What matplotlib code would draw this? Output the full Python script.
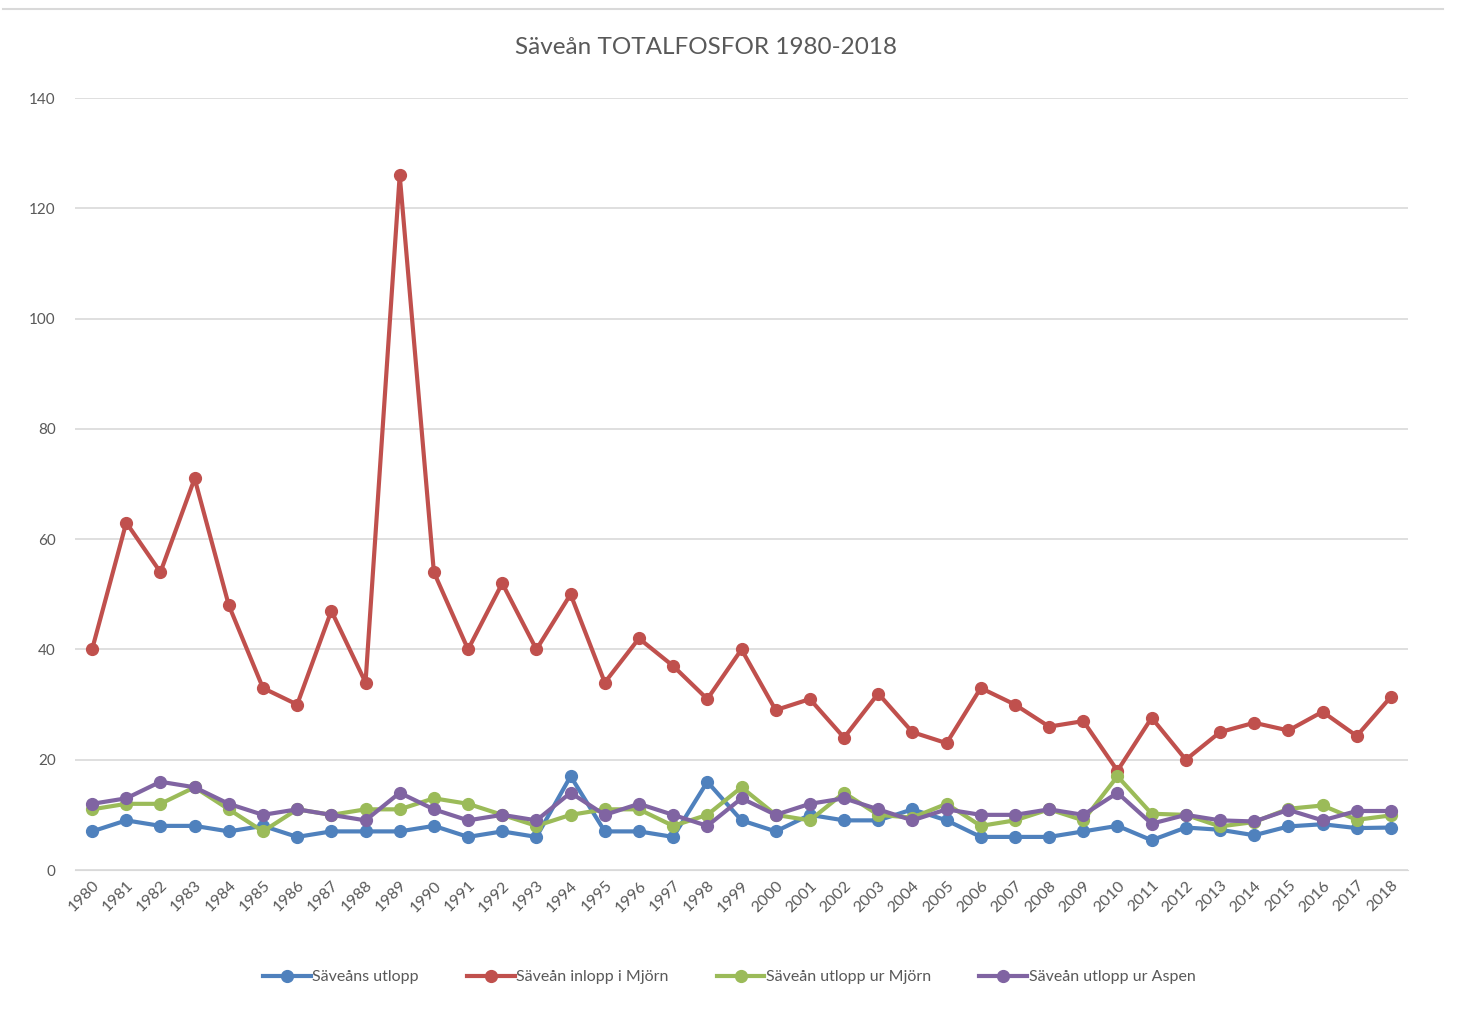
import matplotlib
matplotlib.use("Agg")
import matplotlib.pyplot as plt
from matplotlib.lines import Line2D

plt.rcParams['font.family'] = ['Lato', 'DejaVu Sans']

years = list(range(1980, 2019))

utlopp = [7, 9, 8, 8, 7, 8, 6, 7, 7, 7, 8, 6, 7, 6, 17, 7, 7, 6, 16, 9,
          7, 10, 9, 9, 11, 9, 6, 6, 6, 7, 8, 5.4, 7.7, 7.3, 6.3, 7.9, 8.3, 7.6, 7.7]
inlopp_mjorn = [40, 63, 54, 71, 48, 33, 30, 47, 34, 126, 54, 40, 52, 40, 50, 34, 42, 37, 31, 40,
                29, 31, 24, 32, 25, 23, 33, 30, 26, 27, 18, 27.6, 20, 25, 26.7, 25.3, 28.7, 24.3, 31.4]
utlopp_mjorn = [11, 12, 12, 15, 11, 7, 11, 10, 11, 11, 13, 12, 10, 8, 10, 11, 11, 8, 10, 15,
                10, 9, 14, 10, 9.5, 12, 8, 9, 11, 9, 17, 10.2, 10, 7.9, 8.7, 11.1, 11.7, 9.1, 9.9]
utlopp_aspen = [12, 13, 16, 15, 12, 10, 11, 10, 9, 14, 11, 9, 10, 9, 14, 10, 12, 10, 8, 13,
                10, 12, 13, 11, 9, 11, 10, 10, 11, 10, 14, 8.4, 10, 9, 8.8, 10.9, 9, 10.7, 10.7]

series = [
    ("Säveåns utlopp", utlopp, "#4F81BD"),
    ("Säveån inlopp i Mjörn", inlopp_mjorn, "#C0504D"),
    ("Säveån utlopp ur Mjörn", utlopp_mjorn, "#9BBB59"),
    ("Säveån utlopp ur Aspen", utlopp_aspen, "#8064A2"),
]

fig = plt.figure(figsize=(14.61, 10.14), dpi=100)
ax = fig.add_axes([75 / 1461, 1 - 870 / 1014, (1408 - 75) / 1461, (870 - 98) / 1014])

x = range(len(years))
for name, vals, col in series:
    ax.plot(x, vals, color=col, lw=3, marker='o', ms=8.5, label=name)

ax.set_xlim(-0.5, len(years) - 0.5)
ax.set_ylim(0, 140)
ax.set_yticks(range(0, 141, 20))
ax.set_xticks(list(x))
ax.set_xticklabels([str(y) for y in years], rotation=45, ha='right',
                   rotation_mode='anchor', fontsize=11.5, color='#595959')
ax.tick_params(axis='y', labelsize=11, labelcolor='#595959', length=0, pad=14)
ax.tick_params(axis='x', length=0, pad=6)
ax.grid(axis='y', color='#D9D9D9', lw=1.2)
ax.set_axisbelow(True)
for s in ['top', 'right', 'left']:
    ax.spines[s].set_visible(False)
ax.spines['bottom'].set_color('#D9D9D9')

fig.text(0.483, 1 - 47 / 1014, "Säveån TOTALFOSFOR 1980-2018", ha='center', va='center',
         fontsize=17.5, color='#595959')

fig.legend(loc='center', bbox_to_anchor=(0.499, 1 - 977 / 1014), ncol=4, frameon=False,
           fontsize=11.5, labelcolor='#595959', handlelength=3, columnspacing=3,
           handletextpad=0.1)

# chart border line at top
fig.add_artist(Line2D([3 / 1461, 1443 / 1461], [1 - 9 / 1014, 1 - 9 / 1014],
                      color='#D9D9D9', lw=1.5))

plt.savefig('out.png', dpi=100)
